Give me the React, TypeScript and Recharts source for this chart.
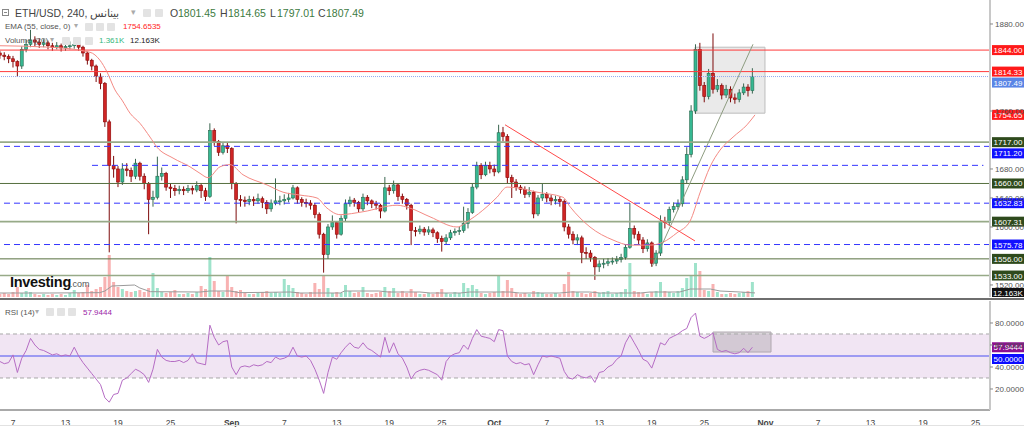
import React from 'react';
import { ComposedChart, Bar, Line, XAxis, YAxis, ReferenceLine, ReferenceArea } from 'recharts';

const FONT = '"Liberation Sans", Arial, sans-serif';

// ---- time axis (days since Aug 1) ----
const FIRST_DAY = 4.5;
const STEP = 0.5;
const X_DOMAIN: [number, number] = [4.514, 117.657];
const xTickDays = [6, 12, 18, 24, 31, 37, 43, 49, 55, 61, 67, 73, 79, 85, 92, 98, 104, 110, 116];
const xTickLabels = ['7', '13', '19', '25', 'Sep', '7', '13', '19', '25', 'Oct', '7', '13', '19', '25', 'Nov', '7', '13', '19', '25'];

// ---- price candles (12h) ----
const firstOpen = 1840;
const closes = [
  1837, 1835, 1832, 1828, 1822, 1845, 1852, 1858, 1855, 1852,
  1854, 1850, 1848, 1850, 1847, 1849, 1850, 1852, 1848, 1840,
  1830, 1822, 1808, 1798, 1745, 1685, 1680, 1662, 1680, 1678,
  1670, 1688, 1670, 1660, 1638, 1641, 1670, 1674, 1655, 1653,
  1650, 1652, 1650, 1653, 1651, 1657, 1650, 1642, 1733, 1718,
  1703, 1712, 1708, 1660, 1638, 1637, 1635, 1638, 1636, 1639,
  1634, 1625, 1633, 1636, 1636, 1638, 1640, 1654, 1638, 1634,
  1633, 1630, 1617, 1590, 1562, 1600, 1606, 1590, 1612, 1632,
  1637, 1634, 1625, 1641, 1636, 1632, 1630, 1622, 1654, 1650,
  1658, 1642, 1638, 1630, 1595, 1594, 1597, 1593, 1596, 1592,
  1584, 1580, 1585, 1592, 1594, 1595, 1605, 1620, 1655, 1685,
  1672, 1685, 1680, 1676, 1730, 1725, 1668, 1662, 1655, 1652,
  1645, 1648, 1618, 1640, 1645, 1640, 1636, 1638, 1635, 1600,
  1590, 1582, 1585, 1565, 1564, 1558, 1545, 1549, 1550, 1552,
  1553, 1555, 1558, 1572, 1598, 1590, 1582, 1570, 1578, 1550,
  1564, 1608, 1606, 1624, 1628, 1632, 1665, 1700, 1760, 1845,
  1795, 1780, 1812, 1790, 1795, 1782, 1790, 1778, 1776, 1785,
  1793, 1788, 1807.49,
];
const highs = [
  1843, 1841, 1838, 1836, 1830, 1849, 1858, 1872, 1863, 1860,
  1859, 1857, 1854, 1855, 1853, 1854, 1856, 1860, 1855, 1850,
  1842, 1832, 1824, 1812, 1800, 1748, 1698, 1684, 1688, 1688,
  1682, 1694, 1690, 1674, 1662, 1650, 1697, 1682, 1676, 1660,
  1658, 1657, 1656, 1658, 1657, 1663, 1660, 1654, 1743, 1736,
  1720, 1716, 1716, 1710, 1662, 1644, 1642, 1643, 1642, 1646,
  1642, 1637, 1638, 1667, 1643, 1645, 1647, 1658, 1656, 1641,
  1639, 1637, 1633, 1620, 1592, 1604, 1616, 1608, 1616, 1638,
  1642, 1640, 1636, 1646, 1644, 1638, 1636, 1632, 1669, 1658,
  1664, 1660, 1646, 1640, 1632, 1600, 1602, 1600, 1601, 1599,
  1594, 1588, 1590, 1596, 1598, 1600, 1628, 1626, 1660, 1690,
  1688, 1690, 1690, 1686, 1741, 1738, 1728, 1672, 1666, 1658,
  1656, 1655, 1650, 1644, 1660, 1648, 1644, 1643, 1642, 1638,
  1604, 1594, 1590, 1588, 1572, 1568, 1560, 1554, 1556, 1557,
  1558, 1560, 1563, 1576, 1633, 1602, 1594, 1586, 1583, 1580,
  1568, 1616, 1614, 1628, 1634, 1638, 1670, 1710, 1768, 1852,
  1854, 1800, 1818, 1867, 1804, 1798, 1796, 1794, 1784, 1790,
  1798, 1797, 1819,
];
const lows = [
  1832, 1830, 1826, 1820, 1807, 1818, 1841, 1848, 1849, 1847,
  1848, 1845, 1843, 1845, 1842, 1843, 1845, 1846, 1843, 1835,
  1824, 1816, 1800, 1790, 1738, 1565, 1668, 1655, 1658, 1670,
  1662, 1666, 1664, 1652, 1590, 1628, 1638, 1664, 1650, 1640,
  1643, 1645, 1644, 1647, 1645, 1648, 1640, 1636, 1640, 1712,
  1698, 1700, 1702, 1652, 1605, 1628, 1628, 1630, 1629, 1632,
  1626, 1618, 1621, 1630, 1630, 1631, 1634, 1638, 1632, 1628,
  1627, 1624, 1612, 1584, 1537, 1556, 1596, 1584, 1588, 1608,
  1628, 1628, 1620, 1622, 1630, 1626, 1624, 1612, 1620, 1644,
  1646, 1636, 1632, 1624, 1575, 1587, 1590, 1588, 1589, 1586,
  1578, 1566, 1576, 1582, 1588, 1589, 1592, 1598, 1618, 1652,
  1666, 1670, 1674, 1670, 1674, 1718, 1660, 1640, 1650, 1646,
  1640, 1641, 1612, 1615, 1636, 1634, 1630, 1631, 1628, 1594,
  1584, 1576, 1575, 1550, 1556, 1552, 1527, 1538, 1543, 1546,
  1548, 1549, 1551, 1555, 1570, 1584, 1576, 1564, 1566, 1545,
  1546, 1560, 1598, 1602, 1620, 1624, 1628, 1660, 1696, 1756,
  1788, 1772, 1776, 1784, 1786, 1776, 1778, 1772, 1770, 1772,
  1782, 1780, 1784,
];
// volume in thousands
const volumes = [
  9, 12, 9, 15, 30, 12, 18, 15, 9, 6,
  9, 6, 9, 6, 9, 6, 12, 21, 12, 15,
  36, 18, 24, 30, 60, 126, 45, 30, 24, 18,
  15, 18, 21, 15, 27, 72, 27, 15, 12, 15,
  21, 9, 9, 12, 9, 15, 33, 24, 120, 48,
  18, 15, 63, 30, 18, 21, 12, 9, 9, 12,
  15, 18, 12, 15, 12, 54, 36, 27, 15, 12,
  9, 15, 42, 24, 66, 27, 12, 15, 12, 36,
  18, 12, 15, 30, 12, 9, 12, 15, 30, 18,
  27, 12, 18, 12, 24, 15, 9, 9, 12, 9,
  15, 24, 12, 9, 15, 12, 42, 27, 36, 24,
  12, 9, 12, 15, 66, 18, 51, 27, 12, 9,
  12, 9, 18, 15, 12, 9, 9, 12, 9, 39,
  75, 18, 15, 12, 9, 12, 18, 12, 15, 18,
  9, 12, 15, 24, 102, 18, 15, 12, 9, 15,
  18, 45, 18, 15, 12, 18, 27, 57, 66, 102,
  78, 21, 18, 39, 15, 9, 9, 12, 9, 12,
  15, 18, 45,
];
const rsiValues = [
  45, 43, 44, 51, 35, 48, 55, 66, 60, 56,
  55, 53, 51, 52, 50, 51, 50, 58, 50, 44,
  39, 34, 29, 24, 12, 8, 15, 16, 28, 30,
  34, 38, 36, 33, 26, 38, 56, 49, 46, 45,
  45, 46, 44, 46, 52, 44, 43, 42, 78, 67,
  60, 63, 64, 40, 33, 40, 41, 40, 42, 41,
  42, 45, 44, 49, 47, 48, 50, 58, 50, 49,
  50, 46, 38, 28, 16, 35, 49, 47, 53, 58,
  62, 58, 57, 62, 57, 55, 52, 49, 67, 53,
  62, 52, 48, 40, 29, 35, 37, 38, 37, 35,
  33, 28, 45, 50, 52, 53, 60, 56, 66, 74,
  68, 67, 66, 63, 74, 73, 50, 45, 43, 44,
  42, 43, 33, 42, 50, 49, 50, 49, 48, 36,
  30, 29, 33, 31, 30, 32, 26, 35, 36, 40,
  42, 47, 50, 62, 69, 62, 55, 47, 45, 39,
  50, 62, 60, 66, 68, 70, 73, 75, 85, 89,
  68, 66, 68, 71, 56, 54, 55, 53, 52, 53,
  57, 53, 57.9444,
];

// ---- EMA(55) ----
const emaDays = [4.51, 10.23, 14.8, 15.94, 16.74, 17.66, 18.46, 19.37, 20.51, 21.66, 22.46, 24.29, 26.23, 27.37, 28.29, 29.66, 30.8, 32.29, 35.03, 36.86, 38.8, 40.74, 41.89, 43.37, 46, 49.89, 51.37, 53.66, 56.74, 58.23, 60.17, 61.31, 62.46, 63.6, 65.89, 68.86, 69.66, 71.94, 74.57, 76.51, 78.8, 80.29, 81.89, 83.37, 84.51, 85.66, 86.8, 88.29, 89.89, 90.8];
const emaValues = [1850, 1848, 1841, 1830, 1814, 1789, 1775, 1757, 1743, 1724, 1710, 1695, 1683, 1674, 1668, 1683, 1686, 1672, 1658, 1648, 1644, 1640, 1626, 1617, 1621, 1630, 1626, 1614, 1600, 1610, 1628, 1641, 1655, 1654, 1648, 1641, 1628, 1600, 1582, 1575, 1575, 1579, 1592, 1608, 1647, 1683, 1706, 1724, 1741, 1754.65];

// ---- Volume MA(20) ----
const volMaDays = [4.51, 10.2, 15.9, 16.5, 17.3, 19.9, 20.5, 21.7, 27.4, 28.5, 30.8, 31.9, 37.7, 38.8, 43.4, 43.9, 47.8, 48.9, 52.5, 53.7, 57.1, 58.2, 62.8, 63.9, 68.5, 69.7, 71.9, 73.1, 77.7, 78.8, 82.2, 83.4, 85.7, 86.8, 89.1, 90.8];
const volMaValues = [12, 12, 13, 18, 33, 36, 27, 16, 15, 18, 18, 13, 15, 12, 12, 18, 18, 15, 15, 12, 12, 15, 15, 12, 12, 15, 15, 12, 12, 15, 15, 24, 24, 18, 15, 12.163];

// ---- levels ----
const redLevels = [1844, 1814.33];
const greenLevels = [1717, 1660, 1607.31, 1556, 1533];
const greenLight = [true, false, true, false, true];
const blueDashLevels = [1711.2, 1632.83, 1575.78];
const blueDashBadgeShift = [7, 0, 0];
const lastPrice = 1807.49;
const emaLast = 1754.65;
const extraDash = { from: 15.03, to: 116.9, price: 1685 };
const redTrend = [{ x: 62.23, y: 1741 }, { x: 83.94, y: 1580.7 }];
const greenTrend = [{ x: 79.03, y: 1545 }, { x: 90.57, y: 1852 }];
const priceBox = { x1: 83.94, x2: 91.94, y1: 1757, y2: 1848 };
const rsiBox = { x1: 86, x2: 92.63, y1: 53.6, y2: 71.8 };
const priceTicks = [1880, 1760, 1680, 1640, 1600, 1520];
const rsiTicks = [20, 40, 60, 80];
const PRICE_DOMAIN: [number, number] = [1503.4, 1913.1];
const VOL_DOMAIN: [number, number] = [0, 891];
const RSI_DOMAIN: [number, number] = [0.9, 100];
const rsiLast = 57.9444;
const volMaLast = 12.163;

const candles = closes.map((c, i) => {
  const o = i === 0 ? firstOpen : closes[i - 1];
  return {
    day: FIRST_DAY + STEP * i,
    open: o,
    close: c,
    high: highs[i],
    low: lows[i],
    range: [lows[i], highs[i]],
    vol: volumes[i],
    rsi: rsiValues[i],
    up: c >= o,
  };
});
const emaData = emaDays.map((d, i) => ({ day: d, ema: emaValues[i] }));
const volMaData = volMaDays.map((d, i) => ({ day: d, ma: volMaValues[i] }));

const Candle = (props: any) => {
  const { x, y, width, height, payload } = props;
  if (!payload || x == null) return null;
  const top = Math.min(y, y + height);
  const h = Math.abs(height);
  const { open, close, high, low } = payload;
  const px = (v: number) => (high === low ? top : top + (h * (high - v)) / (high - low));
  const cx = x + width / 2;
  const up = close >= open;
  const bTop = px(Math.max(open, close));
  const bBot = px(Math.min(open, close));
  return (
    <g>
      <line x1={cx} x2={cx} y1={top} y2={top + h} stroke={up ? '#3b6650' : '#7d0b0b'} strokeWidth={1} />
      <rect x={cx - 1.5} y={bTop} width={3} height={Math.max(1, bBot - bTop)} fill={up ? '#36b892' : '#cf2525'} stroke={up ? '#2b6a50' : '#8a0505'} strokeWidth={0.6} />
    </g>
  );
};

const VolBar = (props: any) => {
  const { x, y, width, height, payload } = props;
  if (!payload || x == null) return null;
  const top = Math.min(y, y + height);
  const h = Math.abs(height);
  return <rect x={x + width / 2 - 1.5} y={top} width={3} height={h} fill={payload.up ? '#9fe3cb' : '#f8b2b2'} />;
};

const badge = (text: string, bg: string, shift = 0, fg = '#fff') => (props: any) => {
  const vb = props.viewBox || {};
  const x = (vb.x || 0) + (vb.width || 0) + 2;
  const y = (vb.y || 0) + shift;
  return (
    <g>
      <rect x={x} y={y - 5} width={32} height={10} fill={bg} />
      <text x={x + 16} y={y + 3} textAnchor="middle" fontSize={8} fill={fg} fontFamily={FONT}>
        {text}
      </text>
    </g>
  );
};

const XTick = (props: any) => {
  const { x, y, payload } = props;
  const idx = xTickDays.indexOf(payload.value);
  const label = idx >= 0 ? xTickLabels[idx] : '';
  const isMonth = isNaN(Number(label));
  return (
    <text x={x} y={y + 14} textAnchor="middle" fontSize={8.5} fontWeight={isMonth ? 'bold' : 'normal'} fill="#444" fontFamily={FONT}>
      {label}
    </text>
  );
};

const Icon = ({ x, y }: { x: number; y: number }) => (
  <div style={{ position: 'absolute', left: x, top: y, width: 8, height: 8, background: '#e3e3e3', borderRadius: 1 }} />
);

const txt = (x: number, y: number, s: string, color: string, size: number, extra: any = {}) => (
  <div style={{ position: 'absolute', left: x, top: y, color, fontSize: size, fontFamily: FONT, whiteSpace: 'nowrap', lineHeight: 1, ...extra }}>{s}</div>
);

export default function App() {
  return (
    <div style={{ position: 'absolute', left: 0, top: 0, width: 1024, height: 427, background: '#fff', overflow: 'hidden' }}>
      {/* volume layer */}
      <div style={{ position: 'absolute', left: 0, top: 0 }}>
        <ComposedChart width={1024} height={297} data={candles} margin={{ top: 0, right: 34, bottom: 0, left: 0 }}>
          <XAxis type="number" dataKey="day" domain={X_DOMAIN} allowDataOverflow hide />
          <YAxis domain={VOL_DOMAIN} allowDataOverflow hide />
          <Bar dataKey="vol" barSize={3} shape={VolBar} isAnimationActive={false} />
          <Line data={volMaData} dataKey="ma" stroke="#9a9a9a" strokeWidth={1} dot={false} activeDot={false} isAnimationActive={false} type="linear" />
          <ReferenceLine y={volMaLast} stroke="none" label={badge('12.163K', '#111')} />
        </ComposedChart>
      </div>
      {/* price layer */}
      <div style={{ position: 'absolute', left: 0, top: 0 }}>
        <ComposedChart width={1024} height={297} data={candles} margin={{ top: 0, right: 0, bottom: 0, left: 0 }}>
          <XAxis type="number" dataKey="day" domain={X_DOMAIN} allowDataOverflow hide />
          <YAxis
            orientation="right"
            width={34}
            domain={PRICE_DOMAIN}
            allowDataOverflow
            ticks={priceTicks}
            tickFormatter={(v: number) => v.toFixed(2)}
            tick={{ fontSize: 8, fill: '#555', fontFamily: FONT }}
            tickSize={3}
            tickMargin={2}
            tickLine={{ stroke: '#888' }}
            axisLine={{ stroke: '#c8c8c8', strokeWidth: 2 }}
          />
          <ReferenceArea x1={priceBox.x1} x2={priceBox.x2} y1={priceBox.y1} y2={priceBox.y2} fill="#d8d8d8" fillOpacity={0.55} stroke="#bdbdbd" />
          {greenLevels.map((v, i) => (
            <ReferenceLine key={'g' + v} y={v} stroke={greenLight[i] ? '#97aa88' : '#56703f'} strokeWidth={greenLight[i] ? 1.6 : 1} label={badge(v.toFixed(2), '#2e4a1c')} />
          ))}
          {blueDashLevels.map((v, i) => (
            <ReferenceLine key={'b' + v} y={v} stroke="#3535ff" strokeDasharray="6 4" label={badge(v.toFixed(2), '#1111ff', blueDashBadgeShift[i])} />
          ))}
          <ReferenceLine segment={[{ x: extraDash.from, y: extraDash.price }, { x: extraDash.to, y: extraDash.price }]} stroke="#3535ff" strokeDasharray="6 4" />
          {redLevels.map((v) => (
            <ReferenceLine key={'r' + v} y={v} stroke="#ff3b3b" strokeWidth={1} label={badge(v.toFixed(2), '#ff1a1a')} />
          ))}
          <ReferenceLine y={lastPrice} stroke="#8fa9ee" strokeDasharray="1 1" label={badge(lastPrice.toFixed(2), '#5a85e6', 6)} />
          <ReferenceLine y={emaLast} stroke="none" label={badge(emaLast.toFixed(2), '#ff1a1a')} />
          <Line data={emaData} dataKey="ema" stroke="#f48a84" strokeWidth={1} dot={false} activeDot={false} isAnimationActive={false} type="monotone" />
          <ReferenceLine segment={redTrend} stroke="#ff4a4a" strokeWidth={1} />
          <Bar dataKey="range" barSize={3} shape={Candle} isAnimationActive={false} />
          <ReferenceLine segment={greenTrend} stroke="#8d9c80" strokeWidth={1} />
        </ComposedChart>
      </div>
      {/* separator */}
      <div style={{ position: 'absolute', left: 0, top: 298, width: 1024, height: 2, background: '#6e6e6e' }} />
      {/* RSI */}
      <div style={{ position: 'absolute', left: 0, top: 301 }}>
        <ComposedChart width={1024} height={126} data={candles} margin={{ top: 0, right: 0, bottom: 0, left: 0 }}>
          <XAxis
            type="number"
            dataKey="day"
            domain={X_DOMAIN}
            allowDataOverflow
            ticks={xTickDays}
            interval={0}
            height={17}
            tick={<XTick />}
            tickLine={false}
            tickSize={0}
            axisLine={{ stroke: '#555' }}
          />
          <YAxis
            orientation="right"
            width={34}
            domain={RSI_DOMAIN}
            allowDataOverflow
            ticks={rsiTicks}
            tickFormatter={(v: number) => v.toFixed(4)}
            tick={{ fontSize: 8, fill: '#555', fontFamily: FONT }}
            tickSize={3}
            tickMargin={2}
            tickLine={{ stroke: '#888' }}
            axisLine={{ stroke: '#c8c8c8', strokeWidth: 2 }}
          />
          <ReferenceArea y1={30} y2={70} fill="#f1e5f3" fillOpacity={1} stroke="none" />
          <ReferenceLine y={70} stroke="#a8a8a8" strokeDasharray="4 3" />
          <ReferenceLine y={30} stroke="#a8a8a8" strokeDasharray="4 3" />
          <ReferenceArea x1={rsiBox.x1} x2={rsiBox.x2} y1={rsiBox.y1} y2={rsiBox.y2} fill="#b9b2ba" fillOpacity={0.55} stroke="#b0a8b0" />
          <ReferenceLine y={50} stroke="#8080f2" strokeWidth={1.5} label={badge('50.0000', '#0b0bff', 3)} />
          <ReferenceLine y={rsiLast} stroke="none" label={badge(rsiLast.toFixed(4), '#8c0f8f')} />
          <Line dataKey="rsi" stroke="#b56cc4" strokeWidth={1} dot={false} activeDot={false} isAnimationActive={false} type="linear" />
        </ComposedChart>
      </div>
      <div style={{ position: 'absolute', left: 0, top: 425, width: 1024, height: 1, background: '#e2e2e2' }} />

      {/* header line 1 */}
      <div style={{ position: 'absolute', left: 2, top: 9, width: 7, height: 7, border: '1px solid #888', boxSizing: 'border-box' }}>
        <div style={{ position: 'absolute', left: 1, top: 2, width: 3, height: 1, background: '#888' }} />
      </div>
      {txt(15, 8, 'ETH/USD, 240, بينانس', '#444', 10.5)}
      {txt(131, 8, '▾', '#aaa', 9)}
      <Icon x={143} y={9} />
      <Icon x={155} y={9} />
      {txt(170, 8, 'O', '#444', 10.5)}
      {txt(178, 8, '1801.45', '#3d7b3f', 10.5)}
      {txt(220, 8, 'H', '#444', 10.5)}
      {txt(228, 8, '1814.65', '#3d7b3f', 10.5)}
      {txt(270, 8, 'L', '#444', 10.5)}
      {txt(277, 8, '1797.01', '#3d7b3f', 10.5)}
      {txt(318, 8, 'C', '#444', 10.5)}
      {txt(326, 8, '1807.49', '#3d7b3f', 10.5)}
      {/* header line 2 */}
      {txt(5, 23, 'EMA (55, close, 0)', '#555', 8)}
      {txt(74, 22, '▾', '#aaa', 8)}
      <Icon x={85} y={23} />
      <Icon x={96} y={23} />
      <Icon x={107} y={23} />
      {txt(123, 23, '1754.6535', '#ff2424', 8)}
      {/* header line 3 */}
      {txt(5, 37, 'Volume (20)', '#555', 8)}
      {txt(50, 36, '▾', '#aaa', 8)}
      <Icon x={62} y={37} />
      <Icon x={73} y={37} />
      <Icon x={85} y={37} />
      {txt(99, 37, '1.361K', '#35b77c', 8)}
      {txt(130, 37, '12.163K', '#222', 8)}
      {/* RSI header */}
      {txt(5, 309, 'RSI (14)', '#555', 8)}
      {txt(35, 308, '▾', '#aaa', 8)}
      <Icon x={46} y={308} />
      <Icon x={57} y={308} />
      <Icon x={68} y={308} />
      {txt(83, 309, '57.9444', '#9b1fa8', 8)}
      {/* logo */}
      {txt(10, 275, 'Investing', '#111', 14.5, { fontWeight: 'bold', letterSpacing: -0.3 })}
      {txt(70, 280, '.com', '#555', 9)}
    </div>
  );
}
